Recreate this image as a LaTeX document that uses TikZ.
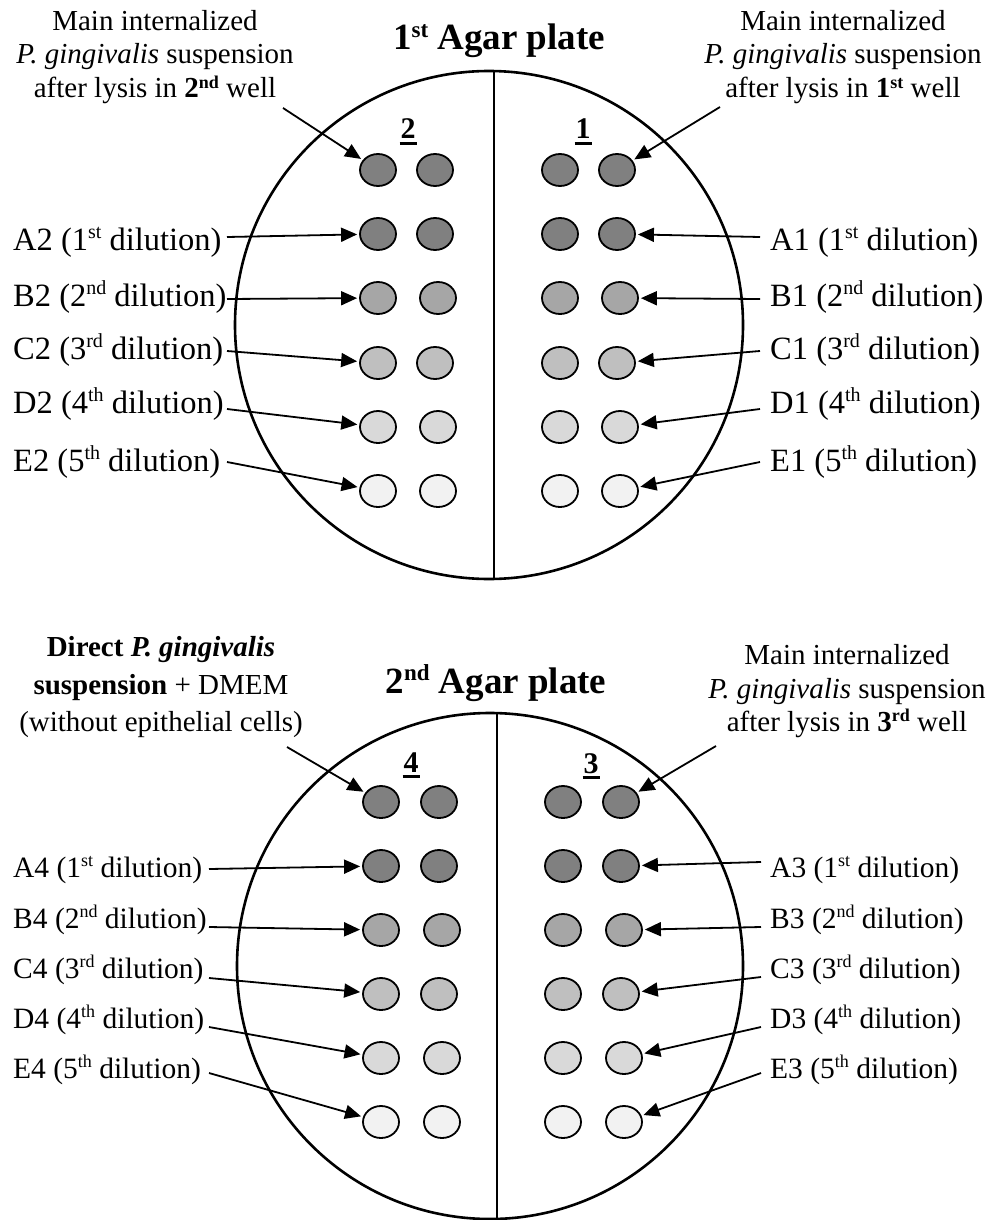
\documentclass[tikz,border=0pt]{standalone}
\usepackage{fontspec}
\setmainfont{Liberation Serif}
\usetikzlibrary{shapes.geometric,arrows.meta}
\newcommand\supL[1]{\raisebox{0.34em}{\fontsize{20}{20}\selectfont #1}}
\newcommand\supM[1]{\raisebox{0.34em}{\fontsize{18}{18}\selectfont #1}}
\newcommand\supA[1]{\raisebox{0.34em}{\fontsize{18}{18}\selectfont #1}}
\newcommand\supT[1]{\raisebox{0.34em}{\fontsize{23}{23}\selectfont #1}}
\newcommand\ulbf[1]{\setbox0\hbox{#1}\rlap{\kern-1pt\rule[-6pt]{\dimexpr\wd0+2pt\relax}{3pt}}\box0}
\definecolor{gA}{HTML}{808080}
\definecolor{gB}{HTML}{A6A6A6}
\definecolor{gC}{HTML}{BFBFBF}
\definecolor{gD}{HTML}{D9D9D9}
\definecolor{gE}{HTML}{F2F2F2}
\tikzset{
  plate/.style={line width=2.6pt},
  well/.style={ellipse, draw, line width=1.8pt, minimum width=36pt, minimum height=32pt, inner sep=0pt},
  lbl/.style={font=\fontsize{32.5}{36}\selectfont, inner sep=0pt, anchor=base west},
  lbm/.style={font=\fontsize{29.5}{34}\selectfont, inner sep=0pt, anchor=base west},
  ann/.style={font=\fontsize{29}{33}\selectfont, inner sep=0pt, anchor=base},
  ttl/.style={font=\fontsize{37}{40}\selectfont\bfseries, inner sep=0pt, anchor=base},
  num/.style={font=\fontsize{30}{32}\selectfont\bfseries, inner sep=0pt, anchor=base},
  arr/.style={-{Triangle[length=16pt,width=14pt]}, line width=1.8pt, shorten >=2pt}
}
\begin{document}
\begin{tikzpicture}[x=1pt,y=-1pt]
\useasboundingbox (0,0) rectangle (1000,1220);
% plates
\draw[plate] (489,325) circle (254);
\draw[plate] (494,71) -- (494,579);
\draw[plate] (490,966) circle (253);
\draw[plate] (497,713) -- (497,1219);
% wells, 1st plate
\foreach \r/\y/\o/\c in {t/170/0/gA, a/234/0/gA, b/298/3/gB, c/363/0/gC, d/427/3/gD, e/491/3/gE} {
  \node[well, fill=\c] (p1\r-l1) at (378,\y) {};
  \node[well, fill=\c] (p1\r-l2) at (435+\o,\y) {};
  \node[well, fill=\c] (p1\r-r1) at (560,\y) {};
  \node[well, fill=\c] (p1\r-r2) at (617+\o,\y) {};
}
% wells, 2nd plate
\foreach \r/\y/\o/\c in {t/802/0/gA, a/866/0/gA, b/930/3/gB, c/994/0/gC, d/1058/3/gD, e/1122/3/gE} {
  \node[well, fill=\c] (p2\r-l1) at (381,\y) {};
  \node[well, fill=\c] (p2\r-l2) at (439+\o,\y) {};
  \node[well, fill=\c] (p2\r-r1) at (563,\y) {};
  \node[well, fill=\c] (p2\r-r2) at (621+\o,\y) {};
}
% titles and plate numbers
\node[ttl] (title1) at (499,50) {1\supT{st} Agar plate};
\node[ttl] (title2) at (496,693) {2\supT{nd} Agar plate};
\node[num] (n2) at (408,139) {\ulbf{2}};
\node[num] (n1) at (583,139) {\ulbf{1}};
\node[num] (n4) at (411,772) {\ulbf{4}};
\node[num] (n3) at (591,773) {\ulbf{3}};
% annotations, 1st plate
\node[ann] (tl1) at (155,31) {Main internalized};
\node[ann] (tl2) at (155,64) {\textit{P. gingivalis} suspension};
\node[ann] (tl3) at (155,98) {after lysis in \textbf{2\supA{nd}} well};
\node[ann] (tr1) at (843,31) {Main internalized};
\node[ann] (tr2) at (843,64) {\textit{P. gingivalis} suspension};
\node[ann] (tr3) at (843,98) {after lysis in \textbf{1\supA{st}} well};
\coordinate (tlS) at (283,108);
\coordinate (trS) at (720,107);
\draw[arr] (tlS) -- (p1t-l1);
\draw[arr] (trS) -- (p1t-r2);
% annotations, 2nd plate
\node[ann] (bl1) at (161,656) {\textbf{Direct \textit{P. gingivalis}}};
\node[ann] (bl2) at (161,694) {\textbf{suspension} + DMEM};
\node[ann] (bl3) at (161,731) {(without epithelial cells)};
\node[ann] (br1) at (847,664) {Main internalized};
\node[ann] (br2) at (847,698) {\textit{P. gingivalis} suspension};
\node[ann] (br3) at (847,731) {after lysis in \textbf{3\supA{rd}} well};
\coordinate (blS) at (287,747);
\coordinate (brS) at (716,746);
\draw[arr] (blS) -- (p2t-l1);
\draw[arr] (brS) -- (p2t-r2);
% dilution labels, 1st plate
\foreach \r/\L/\n/\s/\yb/\ya in {a/A/1/st/250/237, b/B/2/nd/306/299, c/C/3/rd/359/351, d/D/4/th/413/409, e/E/5/th/471/462} {
  \node[lbl] (l\L2) at (13,\yb) {\L2 (\n\supL{\s} dilution)};
  \node[lbl] (l\L1) at (770,\yb) {\L1 (\n\supL{\s} dilution)};
  \coordinate (s\L2) at (227,\ya);
  \coordinate (s\L1) at (760,\ya);
  \draw[arr] (s\L2) -- (p1\r-l1);
  \draw[arr] (s\L1) -- (p1\r-r2);
}
% dilution labels, 2nd plate
\foreach \r/\L/\n/\s/\yb/\ya/\yr in {a/A/1/st/877/869/862, b/B/2/nd/928/927/927, c/C/3/rd/978/978/977, d/D/4/th/1028/1027/1027, e/E/5/th/1078/1073/1073} {
  \node[lbm] (l\L4) at (13,\yb) {\L4 (\n\supM{\s} dilution)};
  \node[lbm] (l\L3) at (770,\yb) {\L3 (\n\supM{\s} dilution)};
  \coordinate (s\L4) at (209,\ya);
  \coordinate (s\L3) at (761,\yr);
  \draw[arr] (s\L4) -- (p2\r-l1);
  \draw[arr] (s\L3) -- (p2\r-r2);
}
\end{tikzpicture}
\end{document}
